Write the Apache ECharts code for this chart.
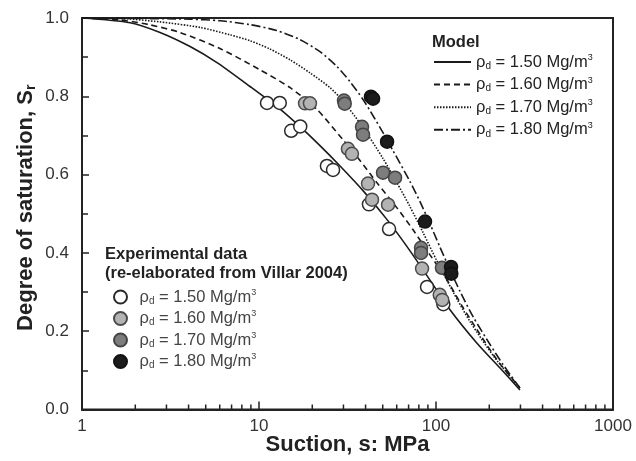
<!DOCTYPE html>
<html>
<head>
<meta charset="utf-8">
<script src="https://cdn.jsdelivr.net/npm/echarts@6/dist/echarts.min.js"></script>
<style>html,body{margin:0;padding:0;background:#fff}#c{width:636px;height:461px}</style>
</head>
<body>
<div id="c"></div>
<script>
// Model curves [suction MPa, degree of saturation]
const model150 = [[1,1.0],[1.87,0.988],[2.76,0.963],[4.08,0.927],[5.79,0.886],[8.9,0.825],[13.1,0.768],[17.0,0.723],[22.1,0.674],[28.7,0.622],[38.7,0.559],[52.9,0.485],[68.6,0.416],[88.9,0.342],[120,0.255],[170,0.170],[230,0.106],[298,0.050]];
const model160 = [[1,1.0],[1.64,0.995],[2.39,0.983],[3.58,0.963],[6.02,0.922],[10.1,0.868],[15.0,0.822],[21.3,0.766],[29.8,0.689],[37.2,0.636],[46.4,0.579],[60.2,0.515],[74.2,0.459],[92.5,0.395],[115,0.332],[141,0.263],[170,0.205],[221,0.127],[298,0.055]];
const model170 = [[1,1.0],[1.64,0.999],[2.76,0.990],[4.64,0.976],[6.86,0.957],[8.9,0.942],[11.5,0.921],[15.0,0.893],[19.4,0.860],[25.2,0.822],[29.8,0.788],[38.2,0.724],[50.2,0.641],[60.2,0.579],[71.3,0.518],[84.5,0.452],[101,0.380],[125,0.300],[156,0.224],[215,0.132],[298,0.055]];
const model180 = [[1,1.0],[1.87,0.999],[4.08,0.997],[6.02,0.993],[8.9,0.983],[12.6,0.968],[17.0,0.945],[22.1,0.914],[27.6,0.876],[32.6,0.838],[38.7,0.792],[44.0,0.751],[50.2,0.707],[57.2,0.661],[71.3,0.582],[81.2,0.531],[92.5,0.474],[105,0.416],[120,0.357],[137,0.301],[162,0.237],[202,0.166],[239,0.115],[298,0.055]];
// Experimental data
const exp150 = [[11.1,0.783],[13.1,0.783],[15.2,0.712],[17.1,0.723],[24.2,0.622],[26.2,0.612],[41.8,0.524],[54.3,0.461],[89,0.313],[110,0.269]];
const exp160 = [[18.2,0.782],[19.4,0.782],[31.8,0.666],[33.5,0.653],[41.3,0.577],[43.5,0.536],[53.6,0.523],[83.4,0.36],[105,0.293],[108.5,0.28]];
const exp170 = [[30.2,0.789],[30.5,0.781],[38.2,0.722],[38.7,0.702],[50.2,0.605],[58.7,0.592],[82.3,0.413],[82.3,0.400],[108,0.362]];
const exp180 = [[42.9,0.799],[44.1,0.794],[52.9,0.684],[86.7,0.480],[121.6,0.364],[122,0.347]];
const densities = ['1.50','1.60','1.70','1.80'];
const xMinorTicks = [2,3,4,5,6,7,8,9,20,30,40,50,60,70,80,90,200,300,400,500,600,700,800,900];

const FONT = 'Liberation Sans, Arial, sans-serif';
const chart = echarts.init(document.getElementById('c'));
const richLeg = (c, fs) => ({
  r: {fontSize: fs, color: c, fontFamily: FONT, lineHeight: 18},
  s: {fontSize: Math.round(fs * 0.62), color: c, fontFamily: FONT, lineHeight: 10, verticalAlign: 'bottom'},
  p: {fontSize: Math.round(fs * 0.55), color: c, fontFamily: FONT, lineHeight: 10, verticalAlign: 'top'}
});
const legFmt = (name) => `{r|ρ}{s|d}{r| = ${name.slice(1)} Mg/m}{p|3}`;

const lineStyles = [
  {type: 'solid', width: 1.6},
  {type: [6, 4], width: 1.6},
  {type: [1.5, 1.5], width: 1.6},
  {type: [9, 3, 2, 3], width: 1.6}
];
const models = [model150, model160, model170, model180];
const exps = [exp150, exp160, exp170, exp180];
const fills = ['#ffffff', '#b3b3b3', '#7d7d7d', '#1c1c1c'];
const borders = ['#2a2a2a', '#4a4a4a', '#444444', '#111111'];

const series = [];
models.forEach((d, i) => {
  series.push({
    name: 'M' + densities[i], type: 'line', data: d, smooth: 0.25,
    symbol: 'none', showSymbol: false, z: 2,
    lineStyle: Object.assign({color: '#1a1a1a'}, lineStyles[i]),
    itemStyle: {color: '#1a1a1a'}
  });
});
exps.forEach((d, i) => {
  series.push({
    name: 'E' + densities[i], type: 'scatter', data: d, symbol: 'circle', symbolSize: 13, z: 5,
    itemStyle: {color: fills[i], borderColor: borders[i], borderWidth: 1.5, opacity: 1}
  });
});
series.push({
  type: 'custom', silent: true, z: 6, clip: false,
  data: xMinorTicks.map(v => [v, 0]),
  renderItem: (params, api) => {
    const p = api.coord([api.value(0), 0]);
    return {type: 'line', shape: {x1: p[0], y1: p[1], x2: p[0], y2: p[1] - 5}, style: {stroke: '#222', lineWidth: 1.5}};
  }
});

chart.setOption({
  animation: false,
  backgroundColor: '#fff',
  grid: {left: 82, right: 23, top: 18, bottom: 51.5, containLabel: false, outerBoundsMode: 'none',
         show: true, borderColor: '#222', borderWidth: 2, backgroundColor: 'transparent'},
  title: [
    {text: 'Model', left: 432, top: 33, padding: 0, textStyle: {fontSize: 16.5, fontWeight: 'bold', color: '#222', fontFamily: FONT, lineHeight: 18}},
    {text: 'Experimental data\n(re-elaborated from Villar 2004)', left: 105, top: 245, padding: 0, textStyle: {fontSize: 16.5, fontWeight: 'bold', color: '#222', fontFamily: FONT, lineHeight: 19}}
  ],
  legend: [
    {data: densities.map(d => 'M' + d), orient: 'vertical', left: 433, top: 53, itemWidth: 37, itemHeight: 14, itemGap: 4.6, padding: 0,
     itemStyle: {opacity: 0, borderWidth: 0},
     formatter: legFmt, textStyle: {rich: richLeg('#222', 16.5)}, selectedMode: false},
    {data: densities.map(d => 'E' + d), orient: 'vertical', left: 113, top: 288, itemWidth: 28, itemHeight: 13, itemGap: 3.5, padding: 0,
     formatter: legFmt, textStyle: {rich: richLeg('#444', 16.5)}, selectedMode: false}
  ],
  xAxis: {
    type: 'log', logBase: 10, min: 1, max: 1000,
    name: 'Suction, s: MPa', nameLocation: 'middle', nameGap: 24, nameMoveOverlap: false,
    nameTextStyle: {fontSize: 22, fontWeight: 'bold', color: '#222', fontFamily: FONT},
    axisLine: {lineStyle: {color: '#222', width: 2}},
    axisTick: {inside: true, length: 8, lineStyle: {color: '#222', width: 1.5}},
    axisLabel: {fontSize: 17, color: '#333', margin: 8, fontFamily: FONT, formatter: v => String(Math.round(v))},
    splitLine: {show: false}, minorTick: {show: false}
  },
  yAxis: {
    type: 'value', min: 0, max: 1, interval: 0.2,
    name: '{a|Degree of saturation, S}{b|r}', nameLocation: 'middle', nameGap: 44, nameMoveOverlap: false,
    nameTextStyle: {padding: [0, 0, 0, 12], rich: {
      a: {fontSize: 22, fontWeight: 'bold', color: '#222', fontFamily: FONT, lineHeight: 24},
      b: {fontSize: 14, fontWeight: 'bold', color: '#222', fontFamily: FONT, lineHeight: 14, verticalAlign: 'bottom'}
    }},
    axisLine: {show: true, lineStyle: {color: '#222', width: 2}},
    axisTick: {show: true, inside: true, length: 7, lineStyle: {color: '#222', width: 1.5}},
    minorTick: {show: true, splitNumber: 2, length: 6, lineStyle: {color: '#222', width: 1.5}},
    axisLabel: {fontSize: 17, color: '#333', margin: 13, fontFamily: FONT, formatter: v => v.toFixed(1)},
    splitLine: {show: false}
  },
  series: series
});
</script>
</body>
</html>
